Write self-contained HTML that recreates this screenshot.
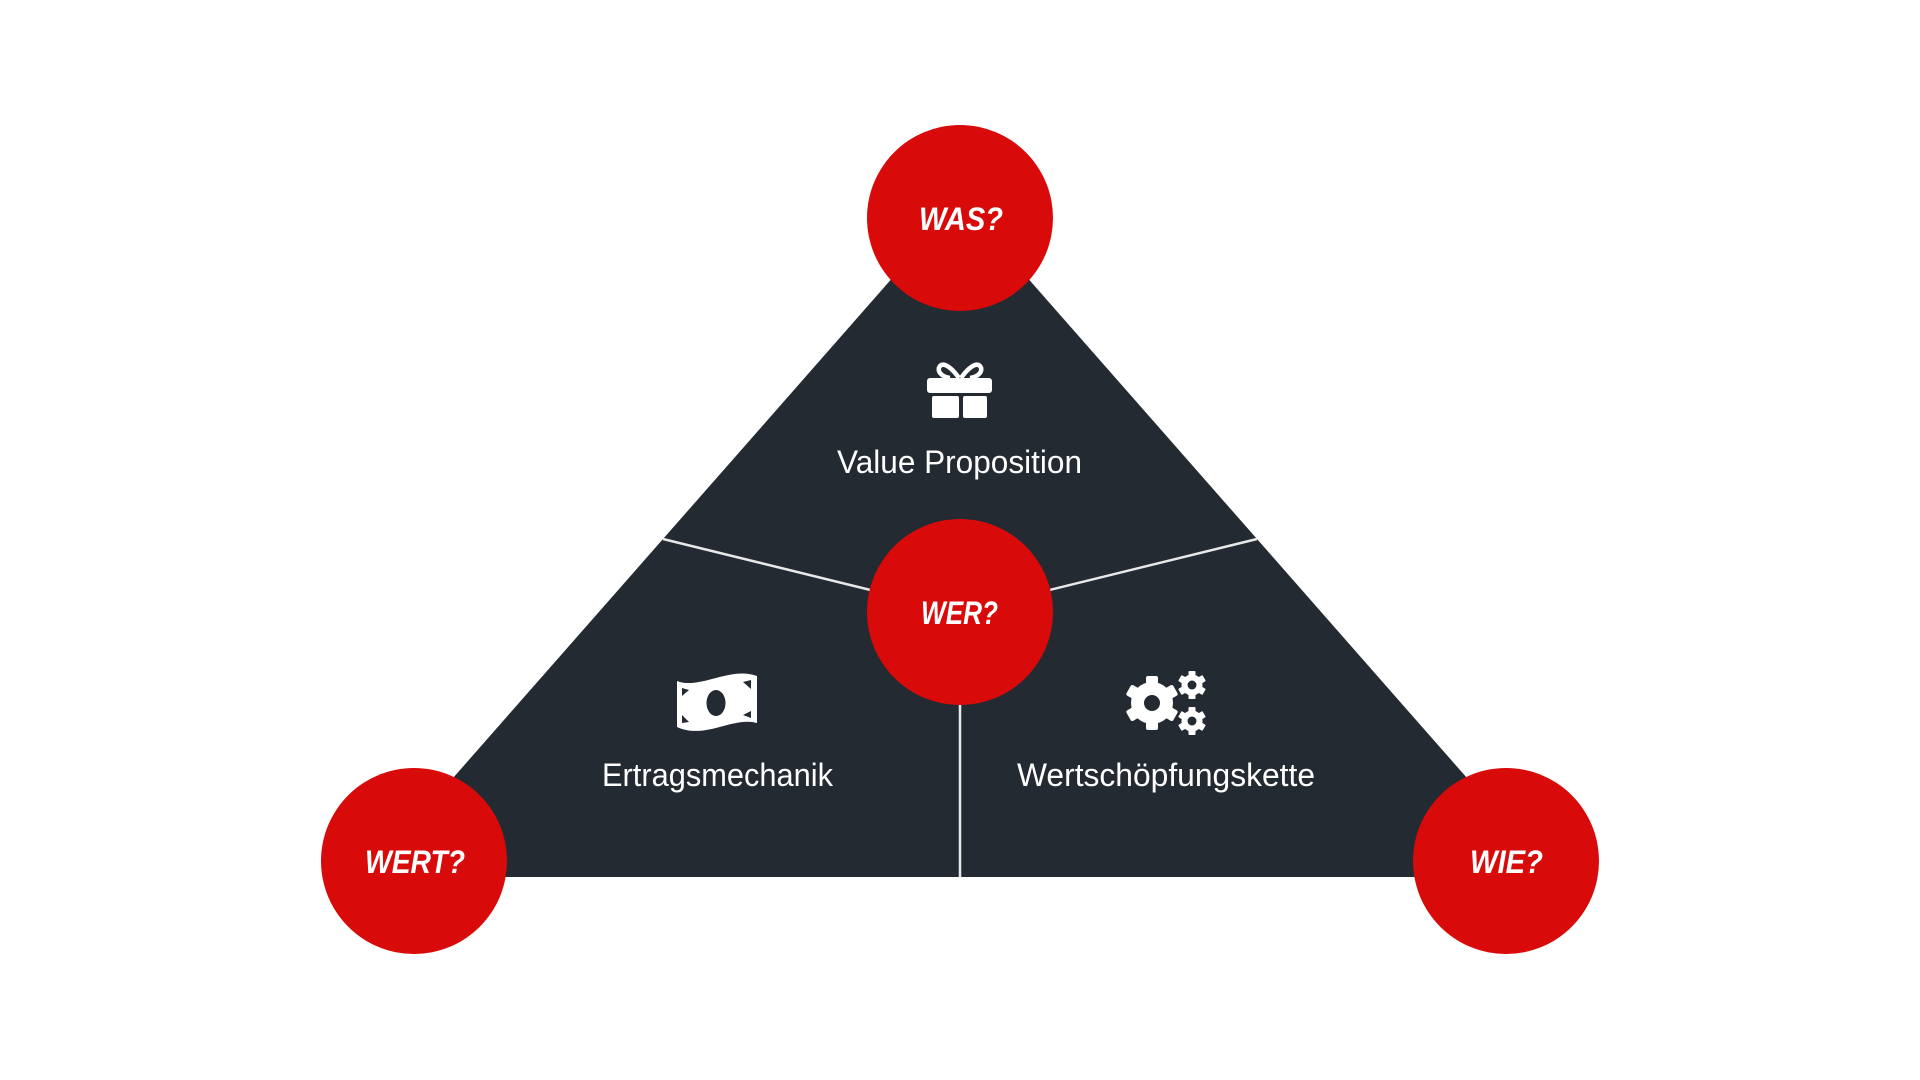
<!DOCTYPE html>
<html>
<head>
<meta charset="utf-8">
<style>
html,body{margin:0;padding:0;background:#fff;}
body{width:1920px;height:1080px;overflow:hidden;}
svg{display:block;}
</style>
</head>
<body>
<svg width="1920" height="1080" viewBox="0 0 1920 1080" xmlns="http://www.w3.org/2000/svg">
  <rect width="1920" height="1080" fill="#ffffff"/>
  <!-- triangle -->
  <polygon points="960,201 366,877 1554,877" fill="#232a31"/>
  <!-- divider lines -->
  <g stroke="#e8e8e8" stroke-width="2.5" fill="none">
    <line x1="663" y1="539" x2="960" y2="612"/>
    <line x1="1257" y1="539" x2="960" y2="612"/>
    <line x1="960" y1="612" x2="960" y2="877"/>
  </g>

  <!-- gift icon -->
  <g fill="#ffffff">
    <rect x="927" y="378" width="65" height="15" rx="3"/>
    <rect x="932" y="396" width="27" height="22" rx="2"/>
    <rect x="963" y="396" width="24" height="22" rx="2"/>
  </g>
  <g fill="none" stroke="#ffffff" stroke-width="4.5" stroke-linejoin="round">
    <path d="M959,378 C952,368 944,362 940,366 C936,371 942,377 950,378"/>
    <path d="M961,378 C968,368 976,362 980,366 C984,371 978,377 970,378"/>
  </g>

  <!-- money icon -->
  <g>
    <path d="M677,681 C700,690 730,666 757,676 L757,723 C733,716 705,740 677,727 Z" fill="#ffffff"/>
    <ellipse cx="716" cy="703" rx="9.5" ry="13" fill="#232a31"/>
    <polygon points="682,688 682,696 689,690" fill="#232a31"/>
    <polygon points="743,682 751,680 751,689" fill="#232a31"/>
    <polygon points="682,715 682,723 689,722" fill="#232a31"/>
    <polygon points="743,715 751,711 751,718" fill="#232a31"/>
  </g>

  <!-- gears icon -->
  <g fill="#ffffff">
    <g transform="translate(1152,703)">
      <circle r="21"/>
      <rect x="-6" y="-27" width="12" height="54" rx="2"/>
      <rect x="-6" y="-27" width="12" height="54" rx="2" transform="rotate(60)"/>
      <rect x="-6" y="-27" width="12" height="54" rx="2" transform="rotate(120)"/>
      <circle r="8" fill="#232a31"/>
    </g>
    <g transform="translate(1192,685)">
      <circle r="10.5"/>
      <rect x="-3.5" y="-14" width="7" height="28" rx="1"/>
      <rect x="-3.5" y="-14" width="7" height="28" rx="1" transform="rotate(60)"/>
      <rect x="-3.5" y="-14" width="7" height="28" rx="1" transform="rotate(120)"/>
      <circle r="4.5" fill="#232a31"/>
    </g>
    <g transform="translate(1192,721)">
      <circle r="10.5"/>
      <rect x="-3.5" y="-14" width="7" height="28" rx="1"/>
      <rect x="-3.5" y="-14" width="7" height="28" rx="1" transform="rotate(60)"/>
      <rect x="-3.5" y="-14" width="7" height="28" rx="1" transform="rotate(120)"/>
      <circle r="4.5" fill="#232a31"/>
    </g>
  </g>

  <!-- labels -->
  <g font-family="'Liberation Sans', 'DejaVu Sans', sans-serif" font-size="32" fill="#ffffff">
    <text x="837" y="473" textLength="245" lengthAdjust="spacingAndGlyphs">Value Proposition</text>
    <text x="602" y="786" textLength="231" lengthAdjust="spacingAndGlyphs">Ertragsmechanik</text>
    <text x="1017" y="786" textLength="298" lengthAdjust="spacingAndGlyphs">Wertschöpfungskette</text>
  </g>

  <!-- red circles -->
  <g fill="#d90a0a">
    <circle cx="960" cy="218" r="93"/>
    <circle cx="960" cy="612" r="93"/>
    <circle cx="414" cy="861" r="93"/>
    <circle cx="1506" cy="861" r="93"/>
  </g>
  <g font-family="'Liberation Sans', 'DejaVu Sans', sans-serif" font-size="32" font-weight="bold" font-style="italic" fill="#ffffff">
    <text x="919" y="230" textLength="84" lengthAdjust="spacingAndGlyphs">WAS?</text>
    <text x="921" y="624" textLength="77" lengthAdjust="spacingAndGlyphs">WER?</text>
    <text x="365" y="873" textLength="100" lengthAdjust="spacingAndGlyphs">WERT?</text>
    <text x="1470" y="873" textLength="73" lengthAdjust="spacingAndGlyphs">WIE?</text>
  </g>
</svg>
</body>
</html>
